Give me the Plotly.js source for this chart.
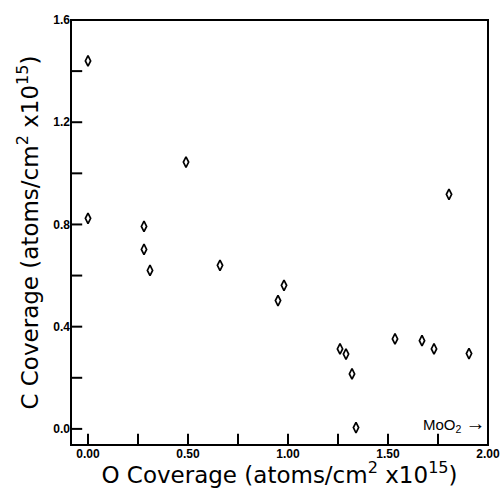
<!DOCTYPE html>
<html><head><meta charset="utf-8">
<script src="https://cdn.plot.ly/plotly-3.0.1.min.js"></script>
<style>html,body{margin:0;padding:0;background:#fff}#plot{width:504px;height:488px}</style>
</head><body><div id="plot"></div>
<script>
const oCoverage = [0.00, 0.00, 0.28, 0.28, 0.31, 0.49, 0.66, 0.95, 0.98, 1.26, 1.29, 1.32, 1.34, 1.535, 1.67, 1.73, 1.905, 1.805];
const cCoverage = [1.44, 0.824, 0.792, 0.702, 0.62, 1.044, 0.64, 0.502, 0.562, 0.313, 0.293, 0.215, 0.005, 0.352, 0.345, 0.313, 0.295, 0.918];
const xTicks = [0, 0.5, 1.0, 1.5, 2.0];
const xTickLabels = ['0.00', '0.50', '1.00', '1.50', '2.00'];
const xMinorTicks = [0.25, 0.75, 1.25, 1.75];
const yTicks = [0, 0.4, 0.8, 1.2, 1.6];
const yTickLabels = ['0.0', '0.4', '0.8', '1.2', '1.6'];
const yMinorTicks = [0.2, 0.6, 1.0, 1.4];
const xRange = [-0.085, 2.0];
const yRange = [-0.063, 1.6];

const tickFont = {family: 'Liberation Sans, Arial, sans-serif', size: 12, color: '#000'};
const titleFont = {family: 'DejaVu Sans, sans-serif', size: 23, color: '#000'};
const S = '\u00a0';

const trace = {
  x: oCoverage, y: cCoverage, type: 'scatter', mode: 'markers',
  marker: {symbol: 'diamond-tall-open', size: 7.5, color: '#000', line: {width: 1.7, color: '#000'}},
  hoverinfo: 'skip'
};

// inward tick marks: line markers centred on the axis edge, clipped to the plot area
const xAll = xTicks.concat(xMinorTicks);
const yAll = yTicks.concat(yMinorTicks);
const xTickTrace = {
  x: xAll, y: xAll.map(() => yRange[0]), type: 'scatter', mode: 'markers', cliponaxis: true,
  marker: {symbol: 'line-ns-open', size: 16, color: '#000', line: {width: 2, color: '#000'}},
  hoverinfo: 'skip'
};
const yTickTrace = {
  x: yAll.map(() => xRange[0]), y: yAll, type: 'scatter', mode: 'markers', cliponaxis: true,
  marker: {symbol: 'line-ew-open', size: 16, color: '#000', line: {width: 2, color: '#000'}},
  hoverinfo: 'skip'
};

const layout = {
  width: 504, height: 488,
  margin: {l: 71, r: 16, t: 20, b: 43},
  paper_bgcolor: '#ffffff', plot_bgcolor: '#ffffff',
  showlegend: false,
  xaxis: {
    range: xRange, tickmode: 'array', tickvals: xTicks,
    ticktext: xTickLabels.map(t => '<b>' + t + '</b>'),
    ticks: '', showline: false, showgrid: false, zeroline: false,
    tickfont: tickFont,
    title: {text: 'O' + S + 'Coverage' + S + '(atoms/cm<sup>2</sup>' + S + 'x10<sup>15</sup>)', font: titleFont, standoff: 3}
  },
  yaxis: {
    range: yRange, tickmode: 'array', tickvals: yTicks,
    ticktext: yTickLabels.map(t => '<b>' + t + '</b>'),
    ticks: '', showline: false, showgrid: false, zeroline: false,
    tickfont: tickFont,
    title: {text: 'C' + S + 'Coverage' + S + '(atoms/cm<sup>2</sup>' + S + 'x10<sup>15</sup>)', font: titleFont, standoff: 8}
  },
  shapes: [{type: 'rect', xref: 'paper', yref: 'paper', x0: 0, x1: 1, y0: 0, y1: 1,
            line: {color: '#000', width: 2}, fillcolor: 'rgba(0,0,0,0)', layer: 'above'}],
  annotations: [{
    xref: 'paper', yref: 'y', x: 1.0, y: 0.02, xanchor: 'right', yanchor: 'middle',
    text: 'MoO<sub>2</sub>' + S + '<span style="font-size:20px">→</span>', showarrow: false,
    font: {family: 'Liberation Sans, Arial, sans-serif', size: 15, color: '#000'}
  }]
};

Plotly.newPlot('plot', [xTickTrace, yTickTrace, trace], layout, {displayModeBar: false});
</script></body></html>
